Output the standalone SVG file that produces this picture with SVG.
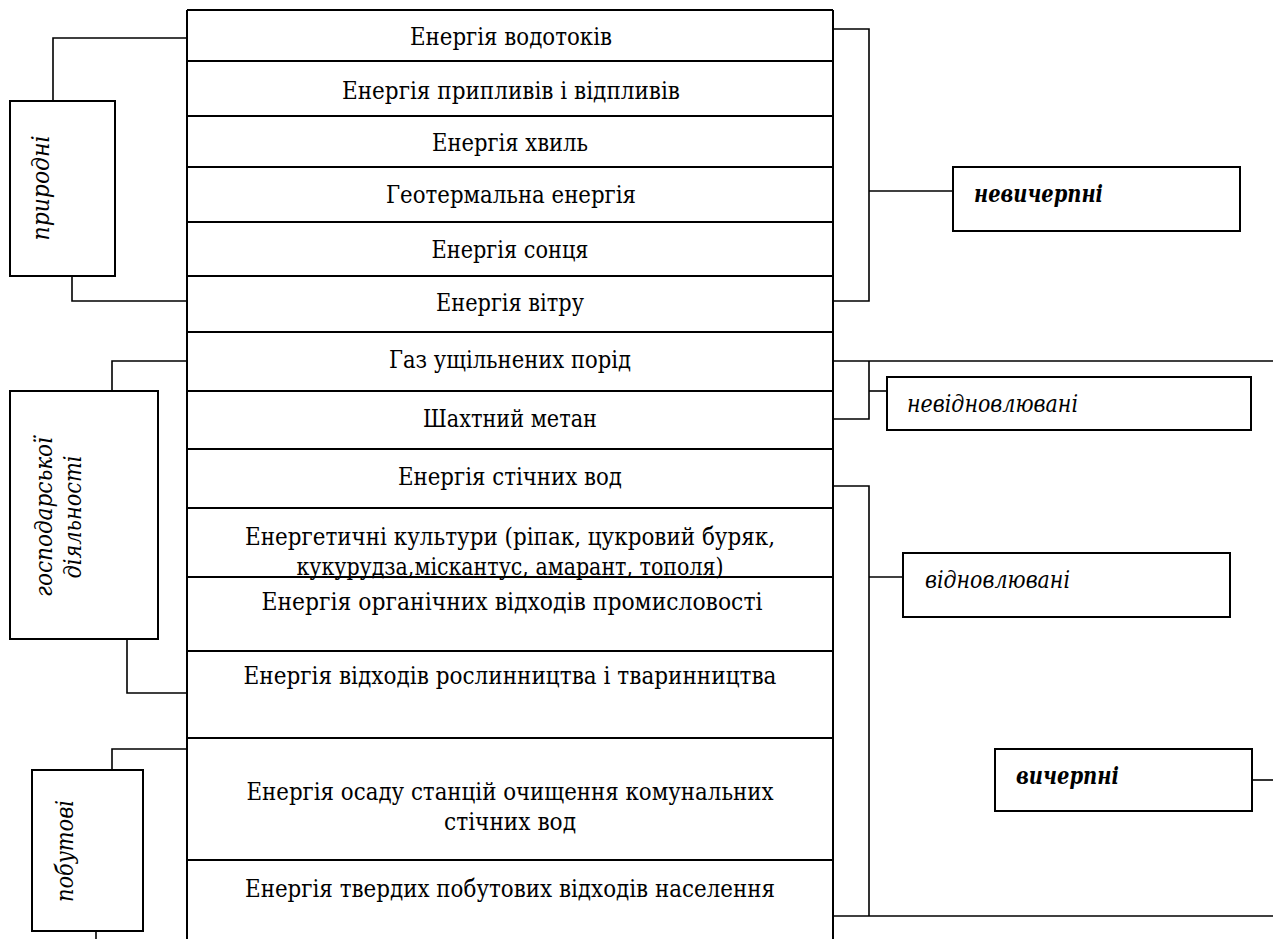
<svg xmlns="http://www.w3.org/2000/svg" width="1273" height="939" viewBox="0 0 1273 939">
<style>
.bg{fill:#fff}
.ln{stroke:#000;stroke-width:2;fill:none}
.cn{stroke:#000;stroke-width:1.6;fill:none}
.bx{stroke:#000;stroke-width:2;fill:#fff}
text{font-family:'DejaVu Serif','Liberation Serif',serif;font-size:24px;fill:#000}
.t{text-anchor:middle}
.it{font-style:italic}
.bi{font-weight:bold}
</style>
<rect class="bg" x="0" y="0" width="1273" height="939"/>
<g id="connectors">
<path class="cn" d="M53,101 V38 H187"/>
<path class="cn" d="M72,276 V301 H187"/>
<path class="cn" d="M112,391 V361 H187"/>
<path class="cn" d="M127,639 V693 H187"/>
<path class="cn" d="M112,770 V749 H187"/>
<path class="cn" d="M96,931 V939"/>
<path class="cn" d="M833,29 H869 V301 H833"/>
<path class="cn" d="M869,191 H953"/>
<path class="cn" d="M833,361 H1273"/>
<path class="cn" d="M869,361 V419 H833"/>
<path class="cn" d="M869,391 H887"/>
<path class="cn" d="M833,486 H869 V916"/>
<path class="cn" d="M833,916 H1273"/>
<path class="cn" d="M869,577 H903"/>
<path class="cn" d="M1252,780 H1273"/>
</g>
<g id="table">
<path class="ln" d="M187,10 V939 M833,10 V939 M187,10 H833"/>
<path class="ln" d="M187,61 H833 M187,116 H833 M187,167 H833 M187,222 H833 M187,276 H833 M187,332 H833 M187,391 H833 M187,449 H833 M187,508 H833 M187,577 H833 M187,651 H833 M187,738 H833 M187,860 H833"/>
</g>
<g id="row1"><text class="t" x="511" y="45" textLength="202" lengthAdjust="spacingAndGlyphs">Енергія водотоків</text></g>
<g id="row2"><text class="t" x="511" y="99" textLength="338" lengthAdjust="spacingAndGlyphs">Енергія припливів і відпливів</text></g>
<g id="row3"><text class="t" x="510" y="151" textLength="156" lengthAdjust="spacingAndGlyphs">Енергія хвиль</text></g>
<g id="row4"><text class="t" x="511" y="203" textLength="250" lengthAdjust="spacingAndGlyphs">Геотермальна енергія</text></g>
<g id="row5"><text class="t" x="510" y="258" textLength="157" lengthAdjust="spacingAndGlyphs">Енергія сонця</text></g>
<g id="row6"><text class="t" x="510" y="311" textLength="148" lengthAdjust="spacingAndGlyphs">Енергія вітру</text></g>
<g id="row7"><text class="t" x="510" y="368" textLength="242" lengthAdjust="spacingAndGlyphs">Газ ущільнених порід</text></g>
<g id="row8"><text class="t" x="510" y="427" textLength="174" lengthAdjust="spacingAndGlyphs">Шахтний метан</text></g>
<g id="row9"><text class="t" x="510" y="485" textLength="224" lengthAdjust="spacingAndGlyphs">Енергія стічних вод</text></g>
<g id="row10"><text class="t" x="510" y="545" textLength="530" lengthAdjust="spacingAndGlyphs">Енергетичні культури (ріпак, цукровий буряк,</text><text class="t" x="510" y="575" textLength="427" lengthAdjust="spacingAndGlyphs">кукурудза,міскантус, амарант, тополя)</text></g>
<g id="row11"><text class="t" x="512" y="610" textLength="501" lengthAdjust="spacingAndGlyphs">Енергія органічних відходів промисловості</text></g>
<g id="row12"><text class="t" x="510" y="684" textLength="533" lengthAdjust="spacingAndGlyphs">Енергія відходів рослинництва і тваринництва</text></g>
<g id="row13"><text class="t" x="510" y="800" textLength="527" lengthAdjust="spacingAndGlyphs">Енергія осаду станцій очищення комунальних</text><text class="t" x="510" y="830" textLength="132" lengthAdjust="spacingAndGlyphs">стічних вод</text></g>
<g id="row14"><text class="t" x="510" y="897" textLength="530" lengthAdjust="spacingAndGlyphs">Енергія твердих побутових відходів населення</text></g>
<g id="natural"><rect class="bx" x="10" y="101" width="105" height="175"/><text class="it t" transform="translate(49,188) rotate(-90)" textLength="105" lengthAdjust="spacingAndGlyphs">природні</text></g>
<g id="economic"><rect class="bx" x="10" y="391" width="148" height="248"/><text class="it t" transform="translate(52,517) rotate(-90)" textLength="160" lengthAdjust="spacingAndGlyphs">господарської</text><text class="it t" transform="translate(81,517) rotate(-90)" textLength="123" lengthAdjust="spacingAndGlyphs">діяльності</text></g>
<g id="household"><rect class="bx" x="32" y="770" width="111" height="161"/><text class="it t" transform="translate(73,851) rotate(-90)" textLength="102" lengthAdjust="spacingAndGlyphs">побутові</text></g>
<g id="inexhaustible"><rect class="bx" x="953" y="167" width="287" height="64"/><text class="it bi" x="974" y="202" textLength="129" lengthAdjust="spacingAndGlyphs">невичерпні</text></g>
<g id="nonrenewable"><rect class="bx" x="887" y="377" width="364" height="53"/><text class="it" x="907" y="412" textLength="171" lengthAdjust="spacingAndGlyphs">невідновлювані</text></g>
<g id="renewable"><rect class="bx" x="903" y="553" width="327" height="64"/><text class="it" x="925" y="588" textLength="145" lengthAdjust="spacingAndGlyphs">відновлювані</text></g>
<g id="exhaustible"><rect class="bx" x="995" y="749" width="257" height="62"/><text class="it bi" x="1016" y="784" textLength="103" lengthAdjust="spacingAndGlyphs">вичерпні</text></g>
</svg>
